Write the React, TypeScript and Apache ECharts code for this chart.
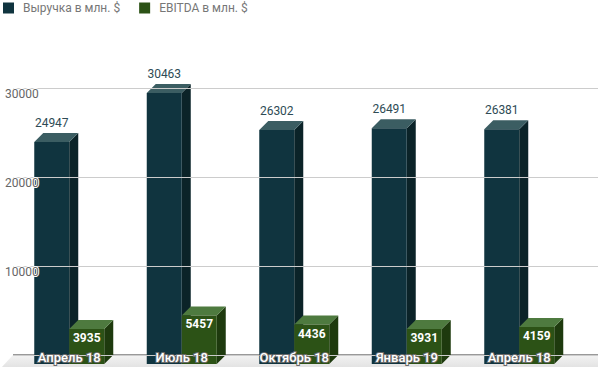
import React, { useEffect, useRef } from "react";
import * as echarts from "echarts";

const categories = ["Апрель 18", "Июль 18", "Октябрь 18", "Январь 19", "Апрель 18"];
const revenue = [24947, 30463, 26302, 26491, 26381];
const ebitda = [3935, 5457, 4436, 3931, 4159];
const seriesNames = ["Выручка в млн. $", "EBITDA в млн. $"];
const yTicks = { min: 0, max: 30000, interval: 10000 };

const palette = [
  { front: "#10343f", side: "#0b2328", top: "#3b5d62" },
  { front: "#2c5216", side: "#1e3a0e", top: "#4e7a3f" },
];

const DEPTH = 9;
const BAR_W = 35;

function makeRender(s: number) {
  return (params: any, api: any) => {
    const idx = api.value(0);
    const val = api.value(1);
    const top = api.coord([idx, val]);
    const base = api.coord([idx, 0]);
    const bx = top[0] - BAR_W + s * BAR_W;
    const byT = top[1];
    const byB = base[1];
    const fx = bx - DEPTH;
    const fyT = byT + DEPTH;
    const fyB = byB + DEPTH;
    const c = palette[s];
    const children: any[] = [
      {
        type: "polygon",
        shape: { points: [[fx + BAR_W, fyT], [bx + BAR_W, byT], [bx + BAR_W, byB], [fx + BAR_W, fyB]] },
        style: { fill: c.side },
      },
      {
        type: "polygon",
        shape: { points: [[fx, fyT], [bx, byT], [bx + BAR_W, byT], [fx + BAR_W, fyT]] },
        style: { fill: c.top },
      },
      {
        type: "rect",
        shape: { x: fx, y: fyT, width: BAR_W, height: fyB - fyT },
        style: { fill: c.front },
      },
    ];
    if (s === 0) {
      children.push({
        type: "text",
        x: fx + BAR_W / 2,
        y: byT - 4,
        style: {
          text: String(val),
          fill: "#2e4b55",
          fontSize: 12,
          fontFamily: "Roboto",
          align: "center",
          verticalAlign: "bottom",
        },
      });
    } else {
      children.push({
        type: "text",
        x: fx + BAR_W / 2,
        y: fyT + 3,
        style: {
          text: String(val),
          fill: "#ffffff",
          fontSize: 12,
          fontWeight: "bold",
          fontFamily: "Roboto",
          align: "center",
          verticalAlign: "top",
        },
      });
    }
    return { type: "group", children };
  };
}

export default function App() {
  const ref = useRef<HTMLDivElement>(null);
  useEffect(() => {
    if (!ref.current) return;
    const chart = echarts.init(ref.current, null, { renderer: "svg" });
    const option: any = {
      animation: false,
      textStyle: { fontFamily: "Roboto" },
      legend: {
        left: 3,
        top: 2,
        padding: 0,
        itemWidth: 11,
        itemHeight: 11,
        itemGap: 19,
        icon: "rect",
        textStyle: { color: "#777", fontSize: 12, fontFamily: "Roboto", padding: [0, 0, 0, 4] },
        data: seriesNames,
      },
      grid: [
        { left: 22, right: 13.5, top: 88, bottom: 12 },
        { left: 13, right: 0, top: 88, bottom: 12 },
      ],
      xAxis: [
        {
          type: "category",
          gridIndex: 0,
          data: categories,
          z: 20,
          axisLine: { show: false },
          axisTick: { show: false },
          axisLabel: {
            margin: -4,
            color: "#ffffff",
            fontSize: 13,
            fontWeight: 500,
            fontFamily: "Roboto",
            textBorderColor: "#6a6a6a",
            textBorderWidth: 2,
            padding: [0, 18, 0, 0],
            interval: 0,
          },
        },
        { type: "value", gridIndex: 1, show: false },
      ],
      yAxis: [
        { type: "value", gridIndex: 0, show: false, ...yTicks },
        {
          type: "value",
          gridIndex: 1,
          z: 20,
          ...yTicks,
          axisLine: { show: false },
          axisTick: { show: false },
          splitLine: { lineStyle: { color: "#cccccc", width: 1 } },
          axisLabel: {
            showMinLabel: false,
            align: "left",
            verticalAlign: "top",
            margin: 8,
            color: "#666",
            fontSize: 12,
            fontFamily: "Roboto",
            textBorderColor: "#ffffff",
            textBorderWidth: 2,
            formatter: (v: number) => String(v),
          },
        },
      ],
      graphic: [
        {
          type: "polygon",
          z: 0,
          shape: { points: [[13, 355], [600, 355], [600, 368], [1, 368]] },
          style: {
            fill: new echarts.graphic.LinearGradient(0, 0, 0, 1, [
              { offset: 0, color: "#f3f3f3" },
              { offset: 1, color: "#e2e2e2" },
            ]),
          },
        },
        {
          type: "line",
          z: 1,
          shape: { x1: 13, y1: 355, x2: 598, y2: 355 },
          style: { stroke: "#333", lineWidth: 1 },
        },
      ],
      series: [
        {
          name: seriesNames[0],
          type: "custom",
          xAxisIndex: 0,
          yAxisIndex: 0,
          z: 5,
          color: palette[0].front,
          renderItem: makeRender(0),
          encode: { x: 0, y: 1 },
          data: revenue.map((v, i) => [i, v]),
        },
        {
          name: seriesNames[1],
          type: "custom",
          xAxisIndex: 0,
          yAxisIndex: 0,
          z: 6,
          color: palette[1].front,
          renderItem: makeRender(1),
          encode: { x: 0, y: 1 },
          data: ebitda.map((v, i) => [i, v]),
        },
      ],
    };
    chart.setOption(option);
    return () => chart.dispose();
  }, []);
  return <div ref={ref} style={{ width: 598, height: 367, position: "absolute", left: 0, top: 0 }} />;
}
